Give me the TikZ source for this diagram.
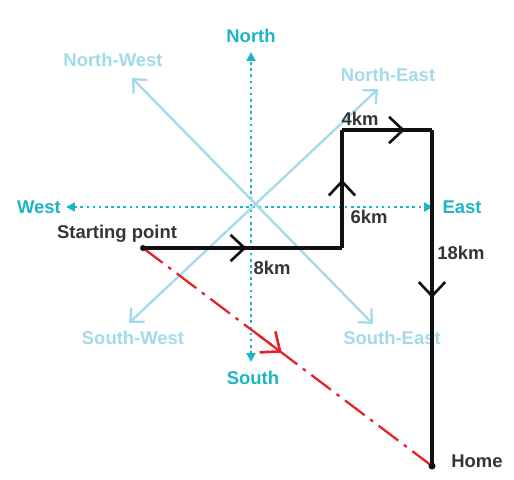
\documentclass[tikz,border=0pt]{standalone}
\usepackage{fontspec}
\setmainfont{Liberation Sans}
\usetikzlibrary{arrows.meta,decorations.markings,calc}
\definecolor{teal}{HTML}{1DB4C6}
\definecolor{skyline}{HTML}{A3DAEA}
\definecolor{inkred}{HTML}{E8202A}
\definecolor{inkblack}{HTML}{111111}

\tikzset{
  cardinal/.style={font=\bfseries\fontsize{10.5}{12}\selectfont, text=teal},
  ordinal/.style={font=\bfseries\fontsize{10.5}{12}\selectfont, text=skyline},
  tag/.style={font=\bfseries\fontsize{10.5}{12}\selectfont, text=inkblack!85},
  axis/.style={teal, line width=1.5pt, dotted, {Triangle[length=5pt,width=5pt]}-{Triangle[length=5pt,width=5pt]}},
  diag/.style={skyline, line width=1.3pt, {Straight Barb[length=6pt,width=11pt]}-{Straight Barb[length=6pt,width=11pt]}},
  walk/.style={inkblack, line width=2pt},
  midarrow/.style={postaction={decorate,decoration={markings,
      mark=at position #1 with {\arrow{Straight Barb[length=8pt,width=15pt,line width=1.5pt]}}}}},
  homeline/.style={inkred, line width=1.3pt, dash pattern=on 14pt off 4pt on 2pt off 4pt},
  redtip/.style={inkred, line width=1.3pt, -{Straight Barb[length=9pt,width=15pt,line width=1.5pt]}},
}

\begin{document}
\begin{tikzpicture}[x=0.02cm,y=-0.02cm]
\useasboundingbox (0,0) rectangle (514,480);

% Compass centre and tips
\coordinate (ctr) at (251,207);
\coordinate (n) at (251,52);
\coordinate (s) at (251,362);
\coordinate (w) at (66,207);
\coordinate (e) at (433,207);
\coordinate (nw) at (132,78);
\coordinate (se) at (373,324);
\coordinate (ne) at (378,89);
\coordinate (sw) at (129,323);

% Dotted cardinal axes
\draw[axis] (w) -- (e);
\draw[axis] (s) -- (n);
% Diagonal directions
\draw[diag] (nw) -- (se);
\draw[diag] (sw) -- (ne);

% Direction labels
\node[cardinal] (northlbl) at (251,36) {North};
\node[cardinal] (southlbl) at (253,378) {South};
\node[cardinal] (westlbl) at (39,207) {West};
\node[cardinal] (eastlbl) at (462,207) {East};
\node[ordinal] (nwlbl) at (113,60) {North-West};
\node[ordinal] (nelbl) at (388,75) {North-East};
\node[ordinal] (swlbl) at (133,338) {South-West};
\node[ordinal] (selbl) at (392,338) {South-East};

% Walk
\coordinate (start) at (143,248);
\coordinate (turn1) at (342,248);
\coordinate (turn2) at (342,130);
\coordinate (turn3) at (432,130);
\coordinate (home) at (432,466);

% Shortest way home
\draw[homeline] (start) -- (home);
\draw[redtip] ($(start)!0.40!(home)$) -- ($(start)!0.48!(home)$);

\draw[walk, midarrow=0.52] (start) -- (turn1);
\draw[walk, midarrow=0.58] (turn1) -- (turn2);
\draw[walk, midarrow=0.70] (turn2) -- (turn3);
\draw[walk, midarrow=0.50] (turn3) -- (home);
\fill[inkblack] (start) circle (3);
\fill[inkblack] (home) circle (3.5);

% Distance labels
\node[tag] (startlbl) at (117,234) {Starting point};
\node[tag] (eight) at (272,268) {8km};
\node[tag] (six) at (369,217) {6km};
\node[tag] (four) at (360,119) {4km};
\node[tag] (eighteen) at (461,253) {18km};
\node[tag] (homelbl) at (477,461) {Home};
\end{tikzpicture}
\end{document}
